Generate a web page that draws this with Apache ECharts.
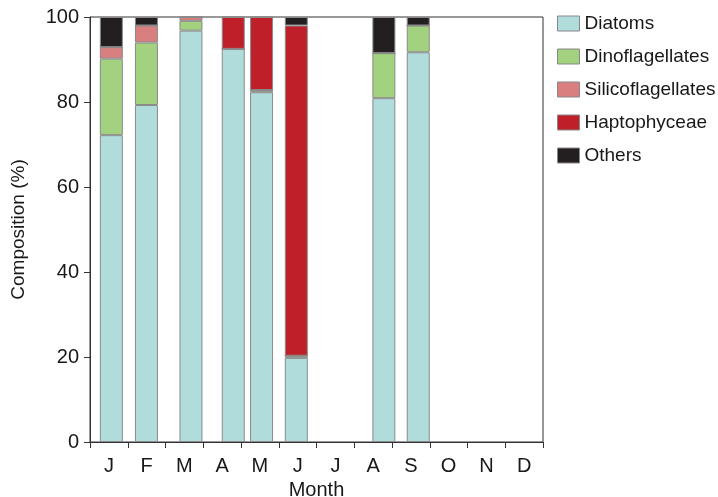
<!DOCTYPE html>
<html>
<head>
<meta charset="utf-8">
<script src="https://cdn.jsdelivr.net/npm/echarts@6/dist/echarts.min.js"></script>
<style>html,body{margin:0;padding:0;background:#fff;}#c{width:718px;height:497px;}</style>
</head>
<body>
<div id="c"></div>
<script>
var months = ['J','F','M','A','M','J','J','A','S','O','N','D'];
// sampling positions in fractional months (0 = start of January)
var samplePos = [0.56, 1.49, 2.67, 3.79, 4.54, 5.46, 7.78, 8.70];
var diatoms           = [72.2, 79.3, 96.8, 92.5, 82.3, 19.8, 80.9, 91.7];
var dinoflagellates   = [18.0, 14.7, 2.3, 0, 0.5, 0.5, 10.6, 6.3];
var silicoflagellates = [2.7, 4.0, 0.9, 0, 0, 0, 0, 0];
var haptophyceae      = [0, 0, 0, 7.5, 17.2, 77.7, 0, 0];
var others            = [7.1, 2.0, 0, 0, 0, 2.0, 8.5, 2.0];
var yTicks = [0, 20, 40, 60, 80, 100];

var seriesDefs = [
  ['Diatoms', diatoms, '#b1dcdc'],
  ['Dinoflagellates', dinoflagellates, '#a2d17f'],
  ['Silicoflagellates', silicoflagellates, '#da7f80'],
  ['Haptophyceae', haptophyceae, '#bf1f29'],
  ['Others', others, '#231f20']
];

// fine time slots (1/100 month) so bars sit at their sampling date and stack
var SLOTS_PER_MONTH = 100;
var nSlots = 12 * SLOTS_PER_MONTH;
var slotCats = [];
for (var k = 0; k < nSlots; k++) slotCats.push(k);
function slotSeries(vals) {
  var arr = new Array(nSlots).fill(null);
  samplePos.forEach(function(p, i){
    arr[Math.floor(p * SLOTS_PER_MONTH)] = vals[i];
  });
  return arr;
}

var font = 'Liberation Sans, Arial, Helvetica, sans-serif';
var txt = '#1a1718';
var chart = echarts.init(document.getElementById('c'), null, {renderer: 'canvas'});
chart.setOption({
  animation: false,
  textStyle: {fontFamily: font},
  grid: {left: 90, right: 175, top: 17, bottom: 55, show: true, borderColor: '#333', borderWidth: 1,
         backgroundColor: 'transparent', outerBoundsMode: 'none', containLabel: false},
  legend: {
    orient: 'vertical', left: 552, top: 9, itemWidth: 22, itemHeight: 15, itemGap: 14,
    textStyle: {fontSize: 19, color: txt, fontFamily: font},
    icon: 'rect',
    itemStyle: {borderColor: '#888', borderWidth: 1},
    data: seriesDefs.map(function(s){return s[0];})
  },
  xAxis: [
    {type: 'category', data: slotCats, show: false, boundaryGap: true},
    {type: 'category', data: months, position: 'bottom', boundaryGap: true,
     name: 'Month', nameLocation: 'middle', nameGap: 37,
     nameTextStyle: {fontSize: 20, color: txt, fontFamily: font},
     axisLine: {lineStyle: {color: '#333', width: 1}},
     axisTick: {show: true, length: 6, lineStyle: {color: '#333'}},
     axisLabel: {fontSize: 20, color: txt, margin: 14, fontFamily: font}
    }
  ],
  yAxis: {
    type: 'value', min: 0, max: 100, interval: 20,
    name: 'Composition (%)', nameLocation: 'middle', nameGap: 62,
    nameTextStyle: {fontSize: 19, color: txt, fontFamily: font},
    axisLine: {show: true, lineStyle: {color: '#333', width: 1}},
    axisTick: {show: true, length: 6, lineStyle: {color: '#333'}},
    axisLabel: {fontSize: 20, color: txt, margin: 11, fontFamily: font,
      formatter: function(v){ return yTicks.indexOf(v) >= 0 ? String(v) : ''; }},
    splitLine: {show: false}
  },
  series: seriesDefs.map(function(s){
    return {
      name: s[0], type: 'bar', stack: 'total', xAxisIndex: 0, barWidth: 23,
      itemStyle: {color: s[2], borderColor: '#8a8a8a', borderWidth: 1},
      data: slotSeries(s[1])
    };
  })
});
</script>
</body>
</html>
